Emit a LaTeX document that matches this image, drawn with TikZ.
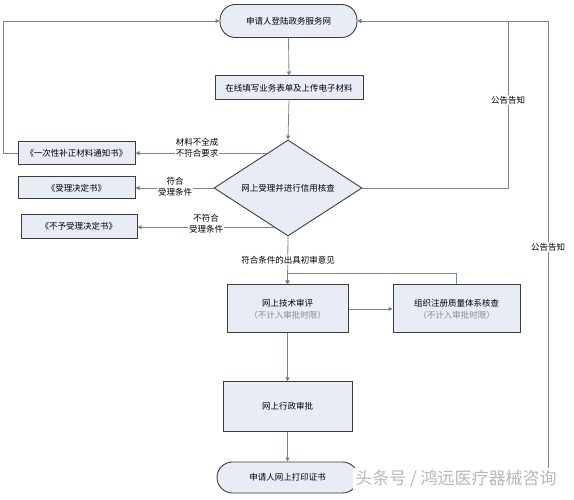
\documentclass[tikz,border=0pt]{standalone}
\usepackage{fontspec}
\setmainfont{Noto Sans CJK SC}
\usetikzlibrary{arrows.meta,shapes.geometric,calc}
\definecolor{boxfill}{HTML}{E8ECF5}
\definecolor{boxline}{HTML}{3C3C3C}
\definecolor{conn}{HTML}{7A8593}
\definecolor{tipc}{HTML}{5A6878}
\definecolor{subtext}{HTML}{8A8A8A}
\begin{document}
\begin{tikzpicture}[x=1pt,y=-1pt,
  every node/.style={font=\fontsize{8.5}{11}\selectfont, inner sep=0pt},
  proc/.style={draw=boxline, line width=1pt, fill=boxfill, align=center},
  term/.style={draw=boxline, line width=0.9pt, fill=boxfill, rounded corners=15.5pt},
  dec/.style={draw=boxline, line width=0.9pt, fill=boxfill, diamond, aspect=2},
  conline/.style={draw=conn, line width=0.8pt},
  arr/.style={conline, -{Triangle[length=4pt,width=4pt,fill=tipc]}},
  lab/.style={fill=white, align=center, inner sep=1pt}]
\useasboundingbox (0,0) rectangle (574,500);

% nodes
\node[term, minimum width=137pt, minimum height=33pt] (t1) at (288.5,21) {申请人登陆政务服务网};
\node[proc, minimum width=148pt, minimum height=24pt] (b2) at (289,88) {在线填写业务表单及上传电子材料};
\node[dec, minimum width=148pt, minimum height=96pt] (d) at (288,188) {网上受理并进行信用核查};
\node[proc, minimum width=117pt, minimum height=23pt] (n1) at (76.5,153.5) {《一次性补正材料通知书》};
\node[proc, minimum width=117pt, minimum height=22pt] (n2) at (76.5,188) {《受理决定书》};
\node[proc, minimum width=116pt, minimum height=24pt] (n3) at (79,226.5) {《不予受理决定书》};
\node[proc, minimum width=121pt, minimum height=48pt] (r1) at (287.5,309) {网上技术审评\\[1pt]\textcolor{subtext}{（不计入审批时限）}};
\node[proc, minimum width=127pt, minimum height=48pt] (r2) at (456.5,309) {组织注册质量体系核查\\[1pt]\textcolor{subtext}{（不计入审批时限）}};
\node[proc, minimum width=129pt, minimum height=49pt] (r3) at (287.5,406.5) {网上行政审批};
\node[term, minimum width=141pt, minimum height=31pt] (t2) at (287.5,477.5) {申请人网上打印证书};

% helper coordinates
\coordinate (p1) at ($(d.west)!0.72!(d.north)$);
\coordinate (p3) at ($(d.west)!0.81!(d.south)$);
\coordinate (lx) at (3,0);
\coordinate (rx1) at (508,0);
\coordinate (rx2) at (548,0);

% main flow
\draw[arr] (t1.south) -- (b2.north);
\draw[arr] (b2.south) -- (d.north);
\draw[arr] (d.south) -- (r1.north);
\node[lab] at (288,260) {符合条件的出具初审意见};
\draw[arr] (r1.east) -- (r2.west);
\draw[arr] (r2.north) |- ($(r1.north)+(0,-11)$) -- (r1.north);
\draw[arr] (r1.south) -- (r3.north);
\draw[arr] (r3.south) -- (t2.north);

% branches to the left
\draw[arr] (p1) -- (p1 -| n1.east);
\node[lab] at (197,148) {材料不全成\\不符合要求};
\draw[arr] (d.west) -- (n2.east);
\node[lab] at (175,187) {符合\\受理条件};
\draw[arr] (p3) -- (p3 -| n3.east);
\node[lab] at (206,224) {不符合\\受理条件};

% feedback to the top
\draw[arr] (n1.west) -- (n1.west -| lx) |- (t1.west);
\draw[arr] (d.east) -- (d.east -| rx1) |- (t1.east);
\node[lab] at (508,100) {公告告知};
\draw[arr] (t2.east) -- (t2.east -| rx2) |- (t1.east);
\node[lab] at (548,247) {公告告知};

% watermark
\node[text=gray!55, fill=white, inner sep=2pt, font=\fontsize{17}{19}\selectfont] (wm) at (456,479) {头条号 / 鸿远医疗器械咨询};
\end{tikzpicture}
\end{document}
